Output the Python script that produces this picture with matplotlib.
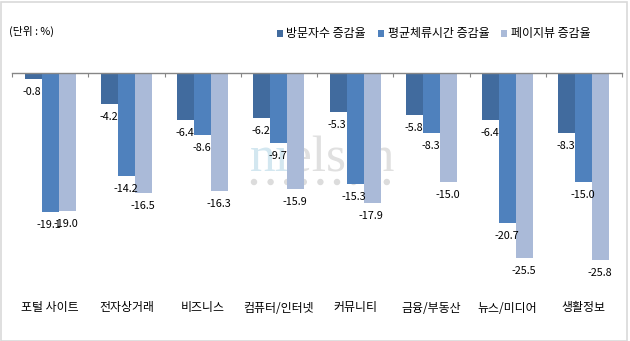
import matplotlib
matplotlib.use("Agg")
import matplotlib.pyplot as plt
from matplotlib.patches import Rectangle, Ellipse

plt.rcParams['font.family'] = ['Noto Sans CJK KR', 'DejaVu Sans']

categories = ["포털 사이트", "전자상거래", "비즈니스", "컴퓨터/인터넷",
              "커뮤니티", "금융/부동산", "뉴스/미디어", "생활정보"]
series_names = ["방문자수 증감율", "평균체류시간 증감율", "페이지뷰 증감율"]
visitors = [-0.8, -4.2, -6.4, -6.2, -5.3, -5.8, -6.4, -8.3]
stay_time = [-19.1, -14.2, -8.6, -9.7, -15.3, -8.3, -20.7, -15.0]
page_views = [-19.0, -16.5, -16.3, -15.9, -17.9, -15.0, -25.5, -25.8]

colors = ["#416B9E", "#4F81BD", "#AABAD8"]
W, H = 630, 341

fig = plt.figure(figsize=(W / 100, H / 100), dpi=100)
fig.patch.set_facecolor("white")

# outer frame
fig.add_artist(Rectangle((0.5 / W, 0.5 / H), (W - 4) / W, (H - 2.5) / H,
                         transform=fig.transFigure, fill=False,
                         edgecolor="#D9D9D9", linewidth=1.2))

AX_L, AX_T, AX_W, AX_H = 12, 73, 610, 218
ax = fig.add_axes([AX_L / W, 1 - (AX_T + AX_H) / H, AX_W / W, AX_H / H])
ax.set_xlim(0, len(categories))
ax.set_ylim(-30, 0)


def axfrac(px, py):
    return (px - AX_L) / AX_W, 1 - (py - AX_T) / AX_H


# faint logo watermark behind the bars
ax.text(*axfrac(250, 171), "ni", transform=ax.transAxes,
        fontsize=37, family="Liberation Serif", color="#D3E7F0",
        ha="left", va="baseline", zorder=0)
ax.text(*axfrac(289, 171), "elsen", transform=ax.transAxes,
        fontsize=37, family="Liberation Serif", color="#E0E0E0",
        ha="left", va="baseline", zorder=0)
for k in range(9):
    ax.add_patch(Ellipse(axfrac(254 + 16.6 * k, 182), 5 / AX_W, 5 / AX_H,
                         transform=ax.transAxes, color="#DCDCDC", zorder=0.5))

bw = 0.223
series = [visitors, stay_time, page_views]
for s, (vals, col, name) in enumerate(zip(series, colors, series_names)):
    xs = [i + 0.5 + (s - 1) * bw for i in range(len(categories))]
    ax.bar(xs, vals, width=bw, color=col, label=name, zorder=2)
    for x, v in zip(xs, vals):
        ax.annotate(f"{v:.1f}", (x, v), xytext=(-1, -13),
                    textcoords="offset pixels", ha="center", va="center",
                    fontsize=7.8, color="black", zorder=3)

for sp in ["left", "right", "bottom"]:
    ax.spines[sp].set_visible(False)
ax.spines["top"].set_color("#868686")
ax.spines["top"].set_linewidth(1.0)
ax.xaxis.set_ticks_position("top")
ax.set_xticks(range(len(categories) + 1))
ax.tick_params(axis="x", direction="in", length=3, color="#868686",
               labeltop=False, labelbottom=False)
ax.set_yticks([])

for i, c in enumerate(categories):
    ax.annotate(c, (i + 0.5, 0), xycoords=ax.get_xaxis_transform(),
                xytext=(0, -17), textcoords="offset pixels",
                ha="center", va="center", fontsize=8.6, color="black")

fig.text(9 / W, 1 - 31 / H, "(단위 : %)", fontsize=7.8, ha="left",
         va="center")

leg = fig.legend(loc="center right", bbox_to_anchor=(601 / W, 1 - 34 / H),
                 ncol=3, frameon=False, fontsize=8.6, handlelength=0.5,
                 handleheight=0.5, handletextpad=0.3, columnspacing=1.0)

fig.savefig("out.png", dpi=100, facecolor="white")
